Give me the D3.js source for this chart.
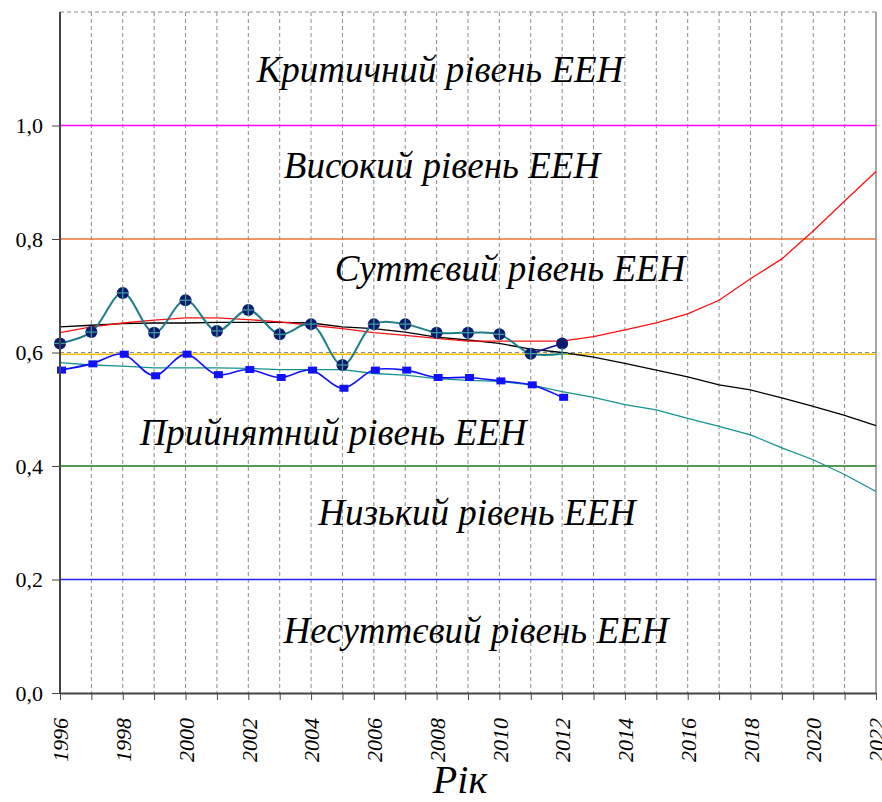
<!DOCTYPE html>
<html>
<head>
<meta charset="utf-8">
<script src="https://cdn.jsdelivr.net/npm/d3@7"></script>
<style>
  body { margin: 0; background: #fff; }
  svg { display: block; }
</style>
</head>
<body>
<svg id="chart" width="882" height="802"></svg>
<script>
// actual values 1996-2012
const yearsActual = [1996, 1997, 1998, 1999, 2000, 2001, 2002, 2003, 2004, 2005, 2006, 2007, 2008, 2009, 2010, 2011, 2012];
const eenPoints = [0.616, 0.636, 0.705, 0.635, 0.692, 0.638, 0.675, 0.632, 0.650, 0.578, 0.650, 0.650, 0.635, 0.635, 0.632, 0.598, 0.616];
const eenSmooth = [0.616, 0.636, 0.705, 0.635, 0.692, 0.638, 0.675, 0.632, 0.650, 0.578, 0.650, 0.650, 0.635, 0.635, 0.632, 0.598, 0.598];
const blueSeries = [0.569, 0.580, 0.597, 0.559, 0.597, 0.561, 0.570, 0.556, 0.569, 0.537, 0.569, 0.569, 0.556, 0.556, 0.550, 0.543, 0.521];

// trends / forecast 1996-2022
const yearsTrend = [1996, 1997, 1998, 1999, 2000, 2001, 2002, 2003, 2004, 2005, 2006, 2007, 2008, 2009, 2010, 2011, 2012, 2013, 2014, 2015, 2016, 2017, 2018, 2019, 2020, 2021, 2022];
const blackTrend = [0.645, 0.648, 0.651, 0.652, 0.652, 0.653, 0.653, 0.653, 0.652, 0.645, 0.642, 0.636, 0.627, 0.622, 0.616, 0.606, 0.600, 0.592, 0.581, 0.569, 0.557, 0.543, 0.534, 0.520, 0.505, 0.489, 0.471];
const redTrend = [0.635, 0.645, 0.652, 0.657, 0.661, 0.661, 0.658, 0.654, 0.648, 0.642, 0.635, 0.630, 0.625, 0.620, 0.620, 0.620, 0.620, 0.628, 0.640, 0.652, 0.668, 0.692, 0.730, 0.765, 0.814, 0.867, 0.919];
const tealTrend = [0.582, 0.578, 0.576, 0.573, 0.573, 0.573, 0.572, 0.570, 0.570, 0.570, 0.563, 0.560, 0.554, 0.551, 0.549, 0.543, 0.531, 0.521, 0.508, 0.499, 0.484, 0.470, 0.455, 0.432, 0.411, 0.385, 0.355];

// threshold levels
const levelValues = [1.0, 0.8, 0.597, 0.4, 0.2];
const levelColors = ["#ff00ff", "#e8733a", "#ffc000", "#1a7a1a", "#2020ff"];
const levelNames = ["Критичний рівень ЕЕН", "Високий рівень ЕЕН", "Суттєвий рівень ЕЕН", "Прийнятний рівень ЕЕН", "Низький рівень ЕЕН", "Несуттєвий рівень ЕЕН"];
const yTicks = [0, 0.2, 0.4, 0.6, 0.8, 1.0];

var FONT = "'Times New Roman', Times, serif";
var svg = d3.select("#chart");
var plotLeft = 60, plotRight = 876, plotTop = 12, plotBottom = 693;

var x = d3.scaleLinear().domain([1996, 2022]).range([plotLeft, plotRight]);
var y = d3.scaleLinear().domain([0, 1.2]).range([plotBottom, plotTop]);

svg.append("rect").attr("width", 882).attr("height", 802).attr("fill", "#fff");

// vertical dashed grid
svg.append("g")
    .selectAll("line")
    .data(d3.range(1997, 2022))
    .enter().append("line")
    .attr("x1", d => x(d)).attr("x2", d => x(d))
    .attr("y1", plotTop).attr("y2", plotBottom)
    .attr("stroke", "#8a8a8a").attr("stroke-width", 1)
    .attr("stroke-dasharray", "4,3");

// horizontal dashed grid
svg.append("g")
    .selectAll("line")
    .data([0.6, 1.2])
    .enter().append("line")
    .attr("x1", plotLeft).attr("x2", plotRight)
    .attr("y1", d => y(d)).attr("y2", d => y(d))
    .attr("stroke", "#8a8a8a").attr("stroke-width", 1)
    .attr("stroke-dasharray", "4,3");

// right border
svg.append("line")
    .attr("x1", plotRight).attr("x2", plotRight).attr("y1", plotTop).attr("y2", plotBottom)
    .attr("stroke", "#8a8a8a").attr("stroke-width", 1.5);

// threshold lines
svg.append("g")
    .selectAll("line")
    .data(levelValues)
    .enter().append("line")
    .attr("x1", plotLeft).attr("x2", plotRight)
    .attr("y1", d => y(d)).attr("y2", d => y(d))
    .attr("stroke", (d, i) => levelColors[i]).attr("stroke-width", 1.5);

// level labels (center x, baseline y)
var labelPos = [[440, 82], [442, 178], [510, 281], [333, 445], [477, 525], [476, 643]];
svg.append("g")
    .selectAll("text")
    .data(levelNames)
    .enter().append("text")
    .attr("x", (d, i) => labelPos[i][0])
    .attr("y", (d, i) => labelPos[i][1])
    .attr("text-anchor", "middle")
    .style("font-family", FONT)
    .style("font-size", "37px")
    .style("font-style", "italic")
    .attr("fill", "#000")
    .text(d => d);

// trend lines
var trendLine = d3.line().x((d, i) => x(yearsTrend[i])).y(d => y(d));
[[tealTrend, "#14938f"], [blackTrend, "#000"], [redTrend, "#ff1010"]].forEach(function (t) {
    svg.append("path")
        .attr("d", trendLine(t[0]))
        .attr("fill", "none")
        .attr("stroke", t[1])
        .attr("stroke-width", 1.3);
});

// blue series
var smoothLine = d3.line().curve(d3.curveCatmullRom.alpha(0.5))
    .x((d, i) => x(yearsActual[i])).y(d => y(d));
svg.append("path")
    .attr("d", smoothLine(blueSeries))
    .attr("fill", "none").attr("stroke", "#1010ff").attr("stroke-width", 1.6);
svg.append("g")
    .selectAll("rect")
    .data(blueSeries)
    .enter().append("rect")
    .attr("x", (d, i) => x(yearsActual[i]) - 3)
    .attr("y", d => y(d) - 3.5)
    .attr("width", 9).attr("height", 7)
    .attr("fill", "#1010ff");

// EEN series: navy link for last segment, teal smooth line
var n = yearsActual.length;
svg.append("line")
    .attr("x1", x(yearsActual[n - 2])).attr("y1", y(eenPoints[n - 2]))
    .attr("x2", x(yearsActual[n - 1])).attr("y2", y(eenPoints[n - 1]))
    .attr("stroke", "#1a1a90").attr("stroke-width", 1.6);
svg.append("path")
    .attr("d", smoothLine(eenSmooth))
    .attr("fill", "none").attr("stroke", "#1d7e8a").attr("stroke-width", 2);

svg.append("g")
    .selectAll("circle")
    .data(eenPoints)
    .enter().append("circle")
    .attr("cx", (d, i) => x(yearsActual[i]))
    .attr("cy", d => y(d))
    .attr("r", 6)
    .attr("fill", "#0c1a6e");

var cross = svg.append("g").attr("stroke", "#3a9aa0").attr("stroke-width", 1.3);
eenSmooth.forEach(function (d, i) {
    var cx = x(yearsActual[i]), cy = y(d);
    cross.append("line").attr("x1", cx - 6).attr("x2", cx + 6).attr("y1", cy).attr("y2", cy);
    cross.append("line").attr("x1", cx).attr("x2", cx).attr("y1", cy - 6).attr("y2", cy + 6);
});

// axes
var yAxis = d3.axisLeft(y).tickValues(yTicks).tickSize(8).tickSizeOuter(0)
    .tickFormat(d => d3.format(".1f")(d).replace(".", ","));
var gy = svg.append("g").attr("transform", "translate(" + plotLeft + ",0)").call(yAxis);
gy.select(".domain").attr("stroke", "#444").attr("stroke-width", 2).attr("d", "M0," + plotTop + "V" + plotBottom);
gy.selectAll(".tick line").attr("stroke", "#444");
gy.selectAll(".tick text")
    .attr("x", -17)
    .style("font-family", FONT)
    .style("font-size", "22px")
    .attr("fill", "#000");

var xAxis = d3.axisBottom(x).tickValues(yearsTrend).tickSize(7).tickSizeOuter(0)
    .tickFormat(d => d % 2 === 0 ? String(d) : "");
var gx = svg.append("g").attr("transform", "translate(0," + plotBottom + ")").call(xAxis);
gx.select(".domain").attr("stroke", "#444").attr("stroke-width", 2);
gx.selectAll(".tick line").attr("stroke", "#444");
gx.selectAll(".tick text")
    .attr("transform", "rotate(-90)")
    .attr("x", -25).attr("y", 0).attr("dy", "0.35em")
    .attr("text-anchor", "end")
    .style("font-family", FONT)
    .style("font-size", "22px")
    .style("font-style", "italic")
    .attr("fill", "#000");

svg.append("text")
    .attr("x", 460).attr("y", 793)
    .attr("text-anchor", "middle")
    .style("font-family", FONT)
    .style("font-size", "40px")
    .style("font-style", "italic")
    .text("Рік");
</script>
</body>
</html>
